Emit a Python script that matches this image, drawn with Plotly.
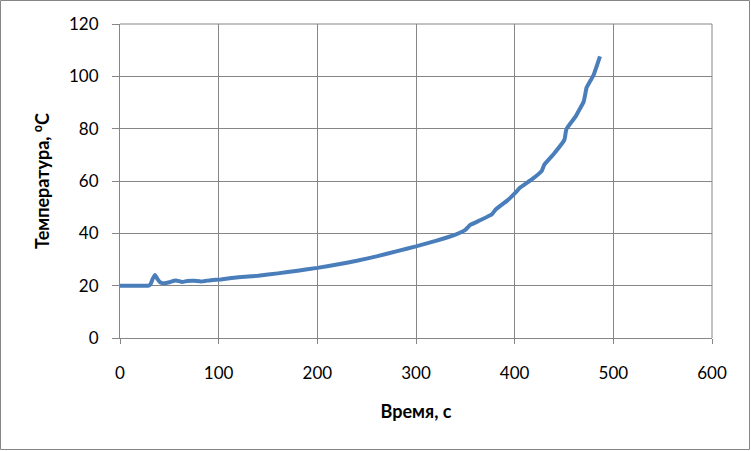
import plotly.graph_objects as go

time_s = [0, 10, 20, 29, 31, 33, 35.5, 38, 41, 45, 50, 55, 58, 63, 68, 75, 82, 92, 102, 120, 140, 160, 180,
          200, 220, 240, 260, 281, 300, 320, 340, 350, 355, 365, 377, 381, 394, 402, 405, 418, 427.5, 430,
          440, 450.4, 452.4, 462, 470, 473, 480, 486.5]
temp_c = [20, 20, 20, 20, 20.6, 22.5, 24.1, 22.5, 21.2, 20.9, 21.3, 21.9, 21.9, 21.4, 21.8, 21.9, 21.6, 22.1,
          22.4, 23.2, 23.8, 24.7, 25.7, 26.8, 28.1, 29.5, 31.2, 33.2, 35.0, 37.1, 39.5, 41.3, 43.2, 45.0,
          47.3, 49.2, 53.0, 56.0, 57.3, 60.8, 63.9, 66.2, 70.5, 75.7, 79.8, 84.8, 90.4, 95.8, 100.5, 107.6]

x_ticks = [0, 100, 200, 300, 400, 500, 600]
y_ticks = [0, 20, 40, 60, 80, 100, 120]

fig = go.Figure()
fig.add_trace(go.Scatter(x=time_s, y=temp_c, mode="lines",
                         line=dict(color="#4A7EBB", width=4, shape="spline", smoothing=0.3),
                         showlegend=False, hoverinfo="x+y"))

grid = "#868686"
font = "Lato, 'Liberation Sans', sans-serif"
fig.update_layout(
    width=751, height=451,
    margin=dict(l=120, r=39, t=24, b=113),
    paper_bgcolor="white", plot_bgcolor="white",
    font=dict(family=font, size=17, color="#000000"),
    xaxis=dict(range=[0, 600], tickvals=x_ticks, showgrid=True, gridcolor=grid, gridwidth=1,
               zeroline=False, showline=True, linecolor=grid, linewidth=1, mirror=False,
               ticks="outside", ticklen=5, tickcolor=grid, ticklabelstandoff=15, automargin=False,
               title=dict(text="<b>Время, с</b>", font=dict(size=18), standoff=22)),
    yaxis=dict(range=[0, 120], tickvals=y_ticks, showgrid=True, gridcolor=grid, gridwidth=1,
               zeroline=False, showline=True, linecolor=grid, linewidth=1,
               ticks="outside", ticklen=7, tickcolor=grid, ticklabelstandoff=10, automargin=False,
               title=dict(text="<b>Температура, <sup>о</sup>С</b>", font=dict(size=18), standoff=14)),
    shapes=[dict(type="line", xref="paper", yref="paper", x0=1, x1=1, y0=0, y1=1,
                 line=dict(color=grid, width=1)),
            dict(type="line", xref="paper", yref="paper", x0=0, x1=1, y0=1, y1=1,
                 line=dict(color=grid, width=1)),
            dict(type="rect", xref="paper", yref="paper",
                 x0=(0.5 - 120) / 592, x1=(749.5 - 120) / 592,
                 y0=(338 - 449.5) / 314, y1=(338 - 0.5) / 314,
                 line=dict(color=grid, width=1), fillcolor="rgba(0,0,0,0)")],
)

fig.write_html("out.html", config={"displayModeBar": False},
               post_script="document.body.style.margin='0';document.body.style.overflow='hidden';")
